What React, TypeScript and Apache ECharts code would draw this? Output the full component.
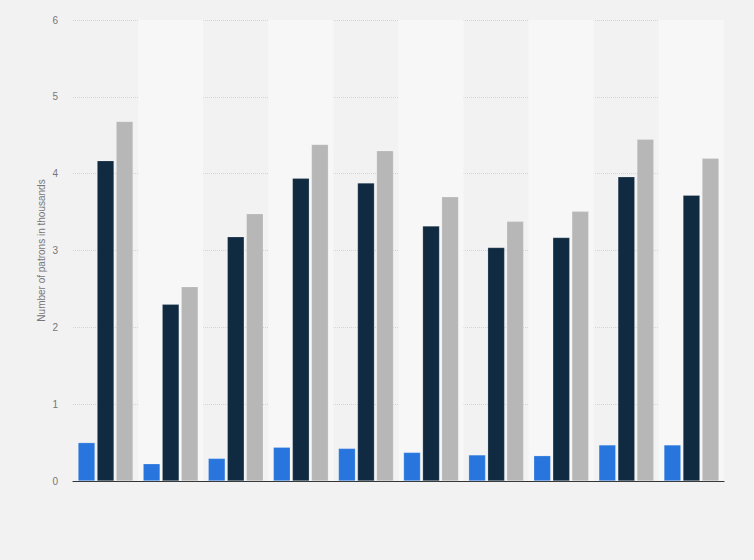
import React, { useEffect, useRef } from "react";
import * as echarts from "echarts";

const categories = ["1", "2", "3", "4", "5", "6", "7", "8", "9", "10"];
const seriesA = [0.5, 0.225, 0.295, 0.44, 0.425, 0.373, 0.34, 0.33, 0.47, 0.47];
const seriesB = [4.17, 2.3, 3.18, 3.94, 3.88, 3.32, 3.04, 3.17, 3.96, 3.72];
const seriesC = [4.68, 2.53, 3.48, 4.38, 4.3, 3.7, 3.38, 3.51, 4.45, 4.2];
const yTicks = [0, 1, 2, 3, 4, 5, 6];

export default function App() {
  const ref = useRef<HTMLDivElement>(null);
  useEffect(() => {
    if (!ref.current) return;
    const chart = echarts.init(ref.current, null, { renderer: "svg" });
    const mk = (name: string, data: number[], color: string) => ({
      name,
      type: "bar",
      data,
      barWidth: 17,
      barGap: "12%",
      itemStyle: { color, borderColor: "rgba(255,255,255,0.35)", borderWidth: 0.6 },
    });
    chart.setOption({
      animation: false,
      backgroundColor: "#f2f2f2",
      grid: { left: 73, right: 30, top: 20, bottom: 79 },
      xAxis: {
        type: "category",
        data: categories,
        axisLabel: { show: false },
        axisTick: { show: false },
        axisLine: { show: true, lineStyle: { color: "#333", width: 1.2 } },
        splitArea: { show: true, areaStyle: { color: ["rgba(0,0,0,0)", "#f7f7f7"] } },
      },
      yAxis: {
        type: "value",
        min: yTicks[0],
        max: yTicks[yTicks.length - 1],
        interval: 1,
        name: "Number of patrons in thousands",
        nameLocation: "middle",
        nameGap: 27,
        nameMoveOverlap: false,
        nameTextStyle: { color: "#777", fontSize: 10, fontFamily: "Liberation Sans, Arial" },
        axisLabel: { color: "#777", fontSize: 10, margin: 15, fontFamily: "Liberation Sans, Arial" },
        axisLine: { show: false },
        axisTick: { show: false },
        splitLine: { lineStyle: { color: "#d4d4d4", type: [1, 1], width: 1 } },
      },
      series: [
        mk("A", seriesA, "#2876dd"),
        mk("B", seriesB, "#0f2a41"),
        mk("C", seriesC, "#b7b7b7"),
      ],
    });
    return () => chart.dispose();
  }, []);
  return (
    <div
      ref={ref}
      style={{ position: "fixed", left: 0, top: 0, width: 754, height: 560 }}
    />
  );
}
